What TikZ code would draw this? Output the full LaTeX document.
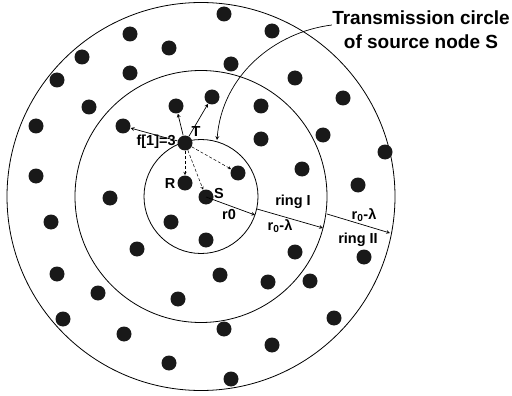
\documentclass[tikz,border=0pt]{standalone}
\usepackage{fontspec}
\setmainfont{Liberation Sans}
\begin{document}
\begin{tikzpicture}[x=1pt,y=-1pt,
                    line width=0.7pt,
                    >=stealth]
    \tikzstyle{sensor}=[circle,fill=black!90,minimum size=15pt,inner sep=0pt]
    \tikzstyle{lbl}=[font=\bfseries\fontsize{14.5}{16}\selectfont,inner sep=0pt]
    \tikzstyle{ring}=[line width=0.8pt]

    \useasboundingbox (0,0) rectangle (512,396);

    % rings around the source
    \coordinate (O) at (201,196.5);
    \draw[ring] (O) circle[radius=57];
    \draw[ring] (O) circle[radius=126];
    \draw[ring] (O) circle[radius=194];

    % nodes of the network
    \foreach \x/\y [count=\i] in {224/14,130/34,169/48,82/57,57/80,130/73,231/64,
        89/107,36/126,36/176,110/198,272/31,295/78,343/98,261/106,261/139,
        323/135,385/152,302/169,358/185,51/222,171/222,206/240,137/249,
        57/274,220/275,98/293,178/299,63/319,124/334,224/329,169/363,
        231/379,295/252,364/257,268/282,310/281,334/318,272/345}
        \node[sensor] (n\i) at (\x,\y) {};
    \node[sensor] (T) at (185,143) {};
    \node[sensor] (R) at (185,183) {};
    \node[sensor] (S) at (206,197) {};
    \node[sensor] (a) at (123,126) {};
    \node[sensor] (b) at (176,106) {};
    \node[sensor] (c) at (212,97) {};
    \node[sensor] (e) at (238,173) {};

    % forwarding from T
    \draw[->] (T) -- (a);
    \draw[->] (T) -- (b);
    \draw[->] (T) -- (c);
    \draw[->,densely dashed,line width=0.5pt] (T) -- (R);
    \draw[->,densely dashed,line width=0.5pt] (T) -- (S);
    \draw[->,densely dashed,line width=0.5pt] (T) -- (e);

    % radii
    \coordinate (p1) at (255,215);
    \coordinate (q1) at (257,209);
    \coordinate (p2) at (323,228);
    \coordinate (q2) at (327,214);
    \coordinate (p3) at (390,233);
    \draw[->] (S.center) -- (p1);
    \draw[->] (q1) -- (p2);
    \draw[->] (q2) -- (p3);

    \node[lbl] (tl) at (196,132) {T};
    \node[lbl,anchor=east] (fl) at (176,142) {f[1]=3};
    \node[lbl] (rl) at (170,184) {R};
    \node[lbl] (sl) at (219,194) {S};
    \node[lbl] (r0) at (229,215) {r0};
    \node[lbl] (ring1) at (293,202) {ring I};
    \node[lbl] (d1) at (280,226) {r\textsubscript{0}-λ};
    \node[lbl] (d2) at (364,215) {r\textsubscript{0}-λ};
    \node[lbl] (ring2) at (358,240) {ring II};

    % transmission circle
    \node[font=\bfseries\fontsize{19}{24}\selectfont,align=center,inner sep=0pt]
        (title) at (421,30) {Transmission circle\\of source node S};
    \coordinate (hit) at (217,140);
    \draw[->] ([yshift=5pt]title.west) .. controls (275,32) and (222,75) .. (hit);
\end{tikzpicture}
\end{document}
